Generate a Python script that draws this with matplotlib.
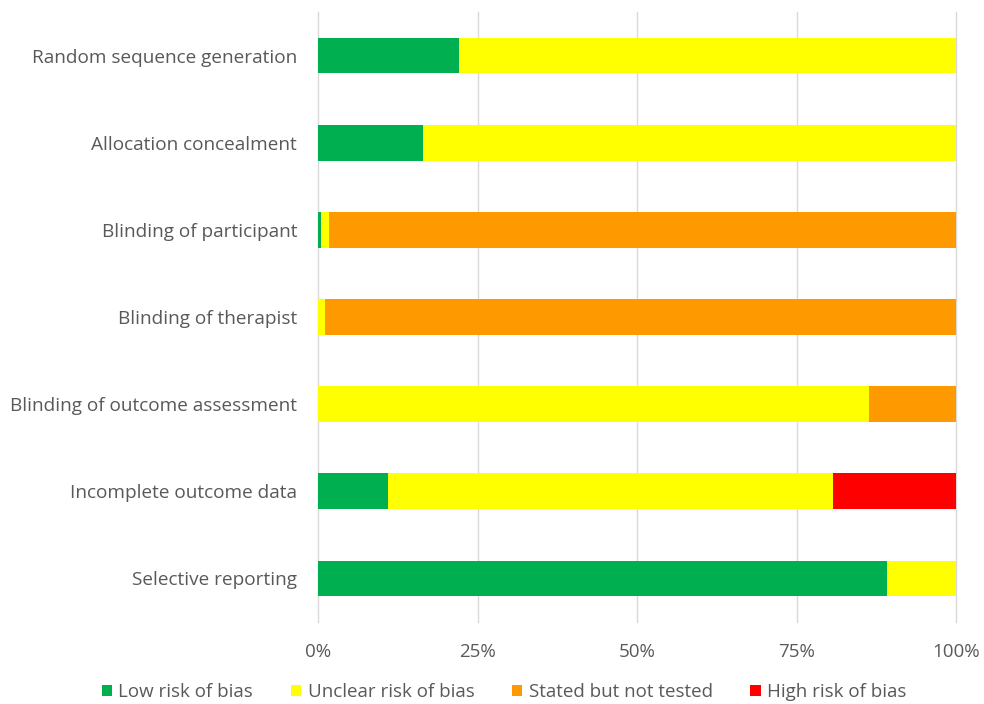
import matplotlib
matplotlib.use("Agg")
import matplotlib.pyplot as plt
from matplotlib.patches import Patch
import numpy as np

categories = ["Random sequence generation", "Allocation concealment", "Blinding of participant",
              "Blinding of therapist", "Blinding of outcome assessment", "Incomplete outcome data",
              "Selective reporting"]
low = [22.1, 16.5, 0.5, 0.0, 0.0, 11.0, 89.2]
unclear = [77.9, 83.5, 1.2, 1.1, 86.4, 69.7, 10.8]
stated = [0.0, 0.0, 98.3, 98.9, 13.6, 0.0, 0.0]
high = [0.0, 0.0, 0.0, 0.0, 0.0, 19.3, 0.0]
series_names = ["Low risk of bias", "Unclear risk of bias", "Stated but not tested", "High risk of bias"]
colors = ["#00B050", "#FFFF00", "#FF9900", "#FF0000"]
xticks = [0, 25, 50, 75, 100]
xticklabels = ["0%", "25%", "50%", "75%", "100%"]

plt.rcParams['font.family'] = ['Open Sans', 'DejaVu Sans']
fig = plt.figure(figsize=(9.84, 7.04), dpi=100)
ax = fig.add_axes([318/984, 1-622/704, (956-318)/984, (622-12)/704])

y = np.arange(len(categories))[::-1]
left = np.zeros(len(categories))
for vals, name, c in zip([low, unclear, stated, high], series_names, colors):
    vals = np.array(vals)
    ax.barh(y, vals, left=left, height=0.41, color=c, label=name, zorder=3)
    left += vals

ax.set_xlim(0, 100)
ax.set_ylim(-0.5, len(categories) - 0.5)
ax.set_yticks(y)
ax.set_yticklabels(categories, fontsize=13.7, color="#595959")
ax.set_xticks(xticks)
ax.set_xticklabels(xticklabels, fontsize=13.5, color="#595959")
ax.tick_params(axis='both', length=0)
ax.tick_params(axis='x', pad=15)
ax.tick_params(axis='y', pad=15)
ax.grid(axis='x', color="#D9D9D9", linewidth=1, zorder=0)
for gl in ax.get_xgridlines():
    gl.set_clip_on(False)
for s in ax.spines.values():
    s.set_visible(False)

handles = [Patch(facecolor=c, label=n) for n, c in zip(series_names, colors)]
fig.legend(handles=handles, loc='center', bbox_to_anchor=(504/984, 1-692/704), ncol=4, frameon=False,
           fontsize=13.5, labelcolor="#595959", handlelength=0.55, handleheight=0.55,
           handletextpad=0.35, columnspacing=2.0)

fig.savefig("out.png", dpi=100)
